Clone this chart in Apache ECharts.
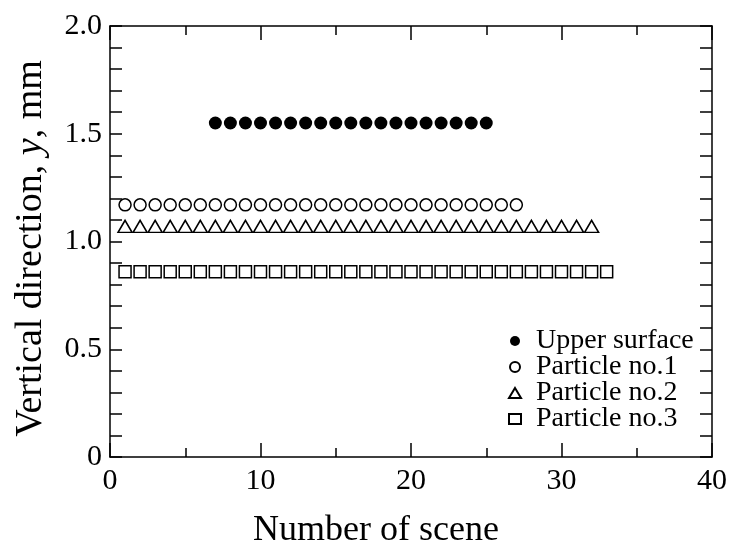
<!DOCTYPE html>
<html><head><meta charset="utf-8">
<script src="https://cdn.jsdelivr.net/npm/echarts@6/dist/echarts.min.js"></script>
<style>html,body{margin:0;padding:0;background:#fff}#c{width:735px;height:547px}</style>
</head><body><div id="c"></div>
<script>
// Data
const upperX = [7,8,9,10,11,12,13,14,15,16,17,18,19,20,21,22,23,24,25];
const upperY = [1.55,1.55,1.55,1.55,1.55,1.55,1.55,1.55,1.55,1.55,1.55,1.55,1.55,1.55,1.55,1.55,1.55,1.55,1.55];
const p1X = [1,2,3,4,5,6,7,8,9,10,11,12,13,14,15,16,17,18,19,20,21,22,23,24,25,26,27];
const p1Y = [1.17,1.17,1.17,1.17,1.17,1.17,1.17,1.17,1.17,1.17,1.17,1.17,1.17,1.17,1.17,1.17,1.17,1.17,1.17,1.17,1.17,1.17,1.17,1.17,1.17,1.17,1.17];
const p2X = [1,2,3,4,5,6,7,8,9,10,11,12,13,14,15,16,17,18,19,20,21,22,23,24,25,26,27,28,29,30,31,32];
const p2Y = [1.07,1.07,1.07,1.07,1.07,1.07,1.07,1.07,1.07,1.07,1.07,1.07,1.07,1.07,1.07,1.07,1.07,1.07,1.07,1.07,1.07,1.07,1.07,1.07,1.07,1.07,1.07,1.07,1.07,1.07,1.07,1.07];
const p3X = [1,2,3,4,5,6,7,8,9,10,11,12,13,14,15,16,17,18,19,20,21,22,23,24,25,26,27,28,29,30,31,32,33];
const p3Y = [0.86,0.86,0.86,0.86,0.86,0.86,0.86,0.86,0.86,0.86,0.86,0.86,0.86,0.86,0.86,0.86,0.86,0.86,0.86,0.86,0.86,0.86,0.86,0.86,0.86,0.86,0.86,0.86,0.86,0.86,0.86,0.86,0.86];
const seriesNames = ['Upper surface','Particle no.1','Particle no.2','Particle no.3'];
const xTickLabels = ['0','10','20','30','40'];
const yTickLabels = ['0','0.5','1.0','1.5','2.0'];

const FONT = '"Liberation Serif","DejaVu Serif",serif';
const zip = (xs, ys) => xs.map((x, i) => [x, ys[i]]);
const axisLine = {show:true, onZero:false, lineStyle:{color:'#000', width:1.5}};

function xAxisDef(pos, showLabel){
  return {
    type:'value', position:pos, min:0, max:40, interval:10,
    axisLine:axisLine, splitLine:{show:false},
    axisTick:{show:true, inside:true, length:14, lineStyle:{color:'#000', width:1.5}},
    minorTick:{show:true, splitNumber:2, length:9, lineStyle:{color:'#000', width:1.5}},
    axisLabel:{show:showLabel, color:'#000', fontFamily:FONT, fontSize:30, margin:9,
      formatter:v => xTickLabels[Math.round(v/10)]},
    name: showLabel ? 'Number of scene' : '',
    nameLocation:'middle', nameGap:56,
    nameTextStyle:{color:'#000', fontFamily:FONT, fontSize:36, padding:[0,70,0,0]}
  };
}
function yAxisDef(pos, showLabel){
  return {
    type:'value', position:pos, min:0, max:2, interval:0.5,
    axisLine:axisLine, splitLine:{show:false},
    axisTick:{show:true, inside:true, length:12, lineStyle:{color:'#000', width:1.5}},
    minorTick:{show:true, splitNumber:5, length:12, lineStyle:{color:'#000', width:1.5}},
    axisLabel:{show:showLabel, color:'#000', fontFamily:FONT, fontSize:30, margin:8,
      formatter:v => yTickLabels[Math.round(v*2)]},
    name: showLabel ? '{a|Vertical direction, }{b|y}{a|, mm}' : '',
    nameLocation:'middle', nameGap:60, nameRotate:90,
    nameTextStyle:{color:'#000', fontFamily:FONT, fontSize:38, padding:[0,14,0,0],
      rich:{a:{fontFamily:FONT, fontSize:38, color:'#000'}, b:{fontFamily:FONT, fontSize:38, fontStyle:'italic', color:'#000'}}}
  };
}

const chart = echarts.init(document.getElementById('c'), null, {renderer:'canvas'});
const hollow = {color:'#fff', borderColor:'#000', borderWidth:1.5, opacity:1};
chart.setOption({
  animation:false,
  backgroundColor:'#fff',
  grid:{left:110, right:23, top:26, bottom:90, containLabel:false, outerBoundsMode:'none'},
  xAxis:[xAxisDef('bottom', true), xAxisDef('top', false)],
  yAxis:[yAxisDef('left', true), yAxisDef('right', false)],
  legend:{
    orient:'vertical', left:503, top:322, itemWidth:12, itemHeight:10, itemGap:-2,
    textStyle:{color:'#000', fontFamily:FONT, fontSize:28, lineHeight:26, padding:[0,0,0,10]},
    data:seriesNames
  },
  series:[
    {name:seriesNames[0], type:'scatter', data:zip(upperX, upperY), symbol:'circle', symbolSize:13, itemStyle:{color:'#000', opacity:1}},
    {name:seriesNames[1], type:'scatter', data:zip(p1X, p1Y), symbol:'circle', symbolSize:12, itemStyle:hollow},
    {name:seriesNames[2], type:'scatter', data:zip(p2X, p2Y), symbol:'triangle', symbolSize:[14,12], itemStyle:hollow},
    {name:seriesNames[3], type:'scatter', data:zip(p3X, p3Y), symbol:'rect', symbolSize:12, itemStyle:hollow}
  ]
});
</script></body></html>
